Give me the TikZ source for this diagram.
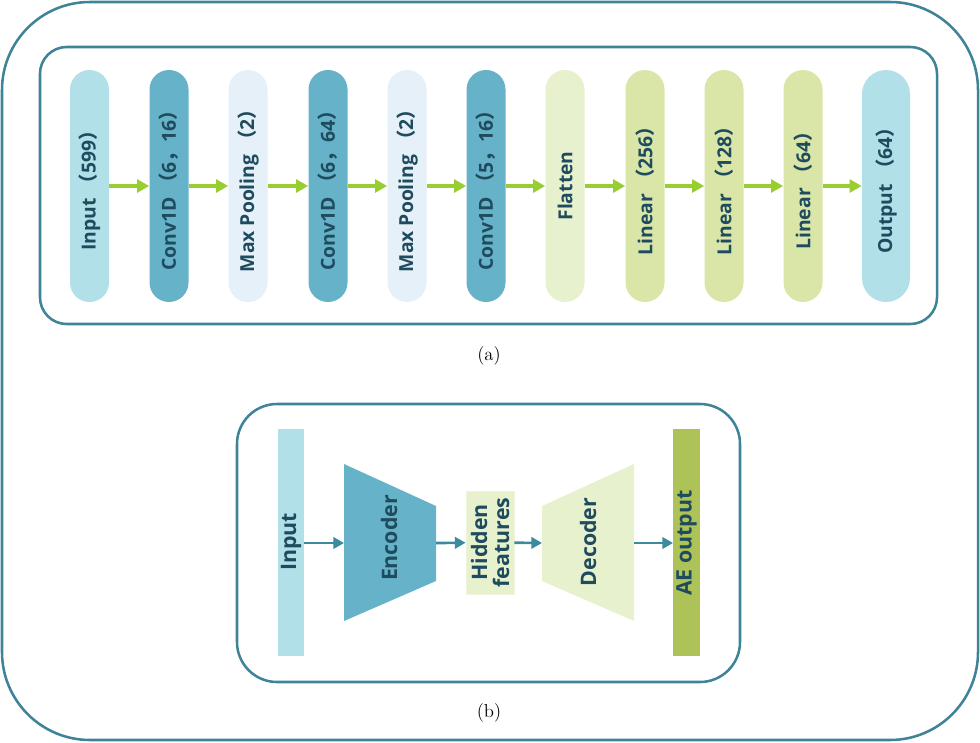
\documentclass[tikz,border=0pt]{standalone}
\usepackage{fontspec}
\setsansfont{Open Sans}
\newfontfamily\cjk{Noto Sans CJK SC}
\usetikzlibrary{arrows.meta}
\definecolor{frameteal}{HTML}{3E8398}
\definecolor{txt}{HTML}{1F4B5E}
\definecolor{inputc}{HTML}{B2E0E8}
\definecolor{convc}{HTML}{66B2C9}
\definecolor{poolc}{HTML}{E5F0F8}
\definecolor{flatc}{HTML}{E8F1CD}
\definecolor{linc}{HTML}{D9E6A8}
\definecolor{arrg}{HTML}{9ACD32}
\definecolor{arrb}{HTML}{3C8A9E}
\definecolor{aec}{HTML}{ADC257}
\newcommand{\lpar}{{\cjk （}}
\newcommand{\rpar}{{\cjk ）}}
\newcommand{\fcomma}{{\cjk ，}}
\tikzset{
  pill/.style={rotate=90, fill=#1, draw=none, rounded corners=14.6pt,
    minimum width=174pt, minimum height=29.25pt, inner sep=0pt,
    text=txt, font=\sffamily\bfseries\fontsize{14.5}{16}\selectfont},
  widepill/.style={pill=#1, minimum height=36pt, rounded corners=18pt},
  garrow/.style={draw=arrg, line width=2.3pt, -{Triangle[length=9pt,width=9.5pt]}},
  barrow/.style={draw=arrb, line width=2pt, -{Triangle[length=8pt,width=8.5pt]}},
  frame/.style={draw=frameteal, line width=1.9pt},
  btxt/.style={text=txt, font=\sffamily\bfseries\fontsize{16}{16.5}\selectfont, rotate=90, align=center},
  capt/.style={font=\fontsize{14}{16}\selectfont}
}
\begin{document}
\begin{tikzpicture}[x=0.75pt, y=-0.75pt]
\useasboundingbox (0,0) rectangle (980,742);
% outer frame
\draw[frame, rounded corners=66pt] (2,2) rectangle (978,740);
% (a) frame
\draw[frame, rounded corners=20pt] (40,47) rectangle (937,324);
% pills
\node[pill=inputc] (p1) at (89.5,186) {Input\ \lpar599\rpar};
\node[pill=convc] (p2) at (169,186) {Conv1D\ \lpar6\fcomma16\rpar};
\node[pill=poolc] (p3) at (248,186) {Max Pooling\ \lpar2\rpar};
\node[pill=convc] (p4) at (328,186) {Conv1D\ \lpar6\fcomma64\rpar};
\node[pill=poolc] (p5) at (407,186) {Max Pooling\ \lpar2\rpar};
\node[pill=convc] (p6) at (486,186) {Conv1D\ \lpar5\fcomma16\rpar};
\node[pill=flatc] (p7) at (565,186) {Flatten};
\node[pill=linc] (p8) at (645,186) {Linear\ \lpar256\rpar};
\node[pill=linc] (p9) at (724,186) {Linear\ \lpar128\rpar};
\node[pill=linc] (p10) at (803,186) {Linear\ \lpar64\rpar};
\node[widepill=inputc] (p11) at (886,186) {Output\ \lpar64\rpar};
\foreach \a/\b in {p1/p2,p2/p3,p3/p4,p4/p5,p5/p6,p6/p7,p7/p8,p8/p9,p9/p10,p10/p11}
  \draw[garrow] (\a) -- (\b);
\node[capt] (capa) at (489,356) {(a)};
% (b) frame
\draw[frame, rounded corners=30pt] (237,404) rectangle (740,682);
\fill[inputc] (278,429) rectangle (304,656);
\coordinate (inR) at (304,543);
\node[btxt] (inT) at (291,542) {Input};
\fill[convc] (344,464) -- (436,506) -- (436,581) -- (344,621) -- cycle;
\coordinate (encL) at (344,543);
\coordinate (encR) at (436,543);
\node[btxt] (encT) at (389,538) {Encoder};
\node[btxt, fill=flatc, draw=flatc!70!white, line width=0.6pt, minimum width=77.25pt, minimum height=36pt, inner sep=0pt] (hid) at (490,542.5) {Hidden\\features};
\fill[flatc] (542,506) -- (634,464) -- (634,621) -- (542,581) -- cycle;
\coordinate (decL) at (542,543);
\coordinate (decR) at (634,543);
\node[btxt] (decT) at (588,542) {Decoder};
\fill[aec] (673,429) rectangle (700,656);
\coordinate (aeL) at (673,543);
\node[btxt] (aeT) at (686.5,543) {AE output};
\draw[barrow] (inR) -- (encL);
\draw[barrow] (encR) -- (hid);
\draw[barrow] (hid) -- (decL);
\draw[barrow] (decR) -- (aeL);
\node[capt] (capb) at (489,713) {(b)};
\end{tikzpicture}
\end{document}
